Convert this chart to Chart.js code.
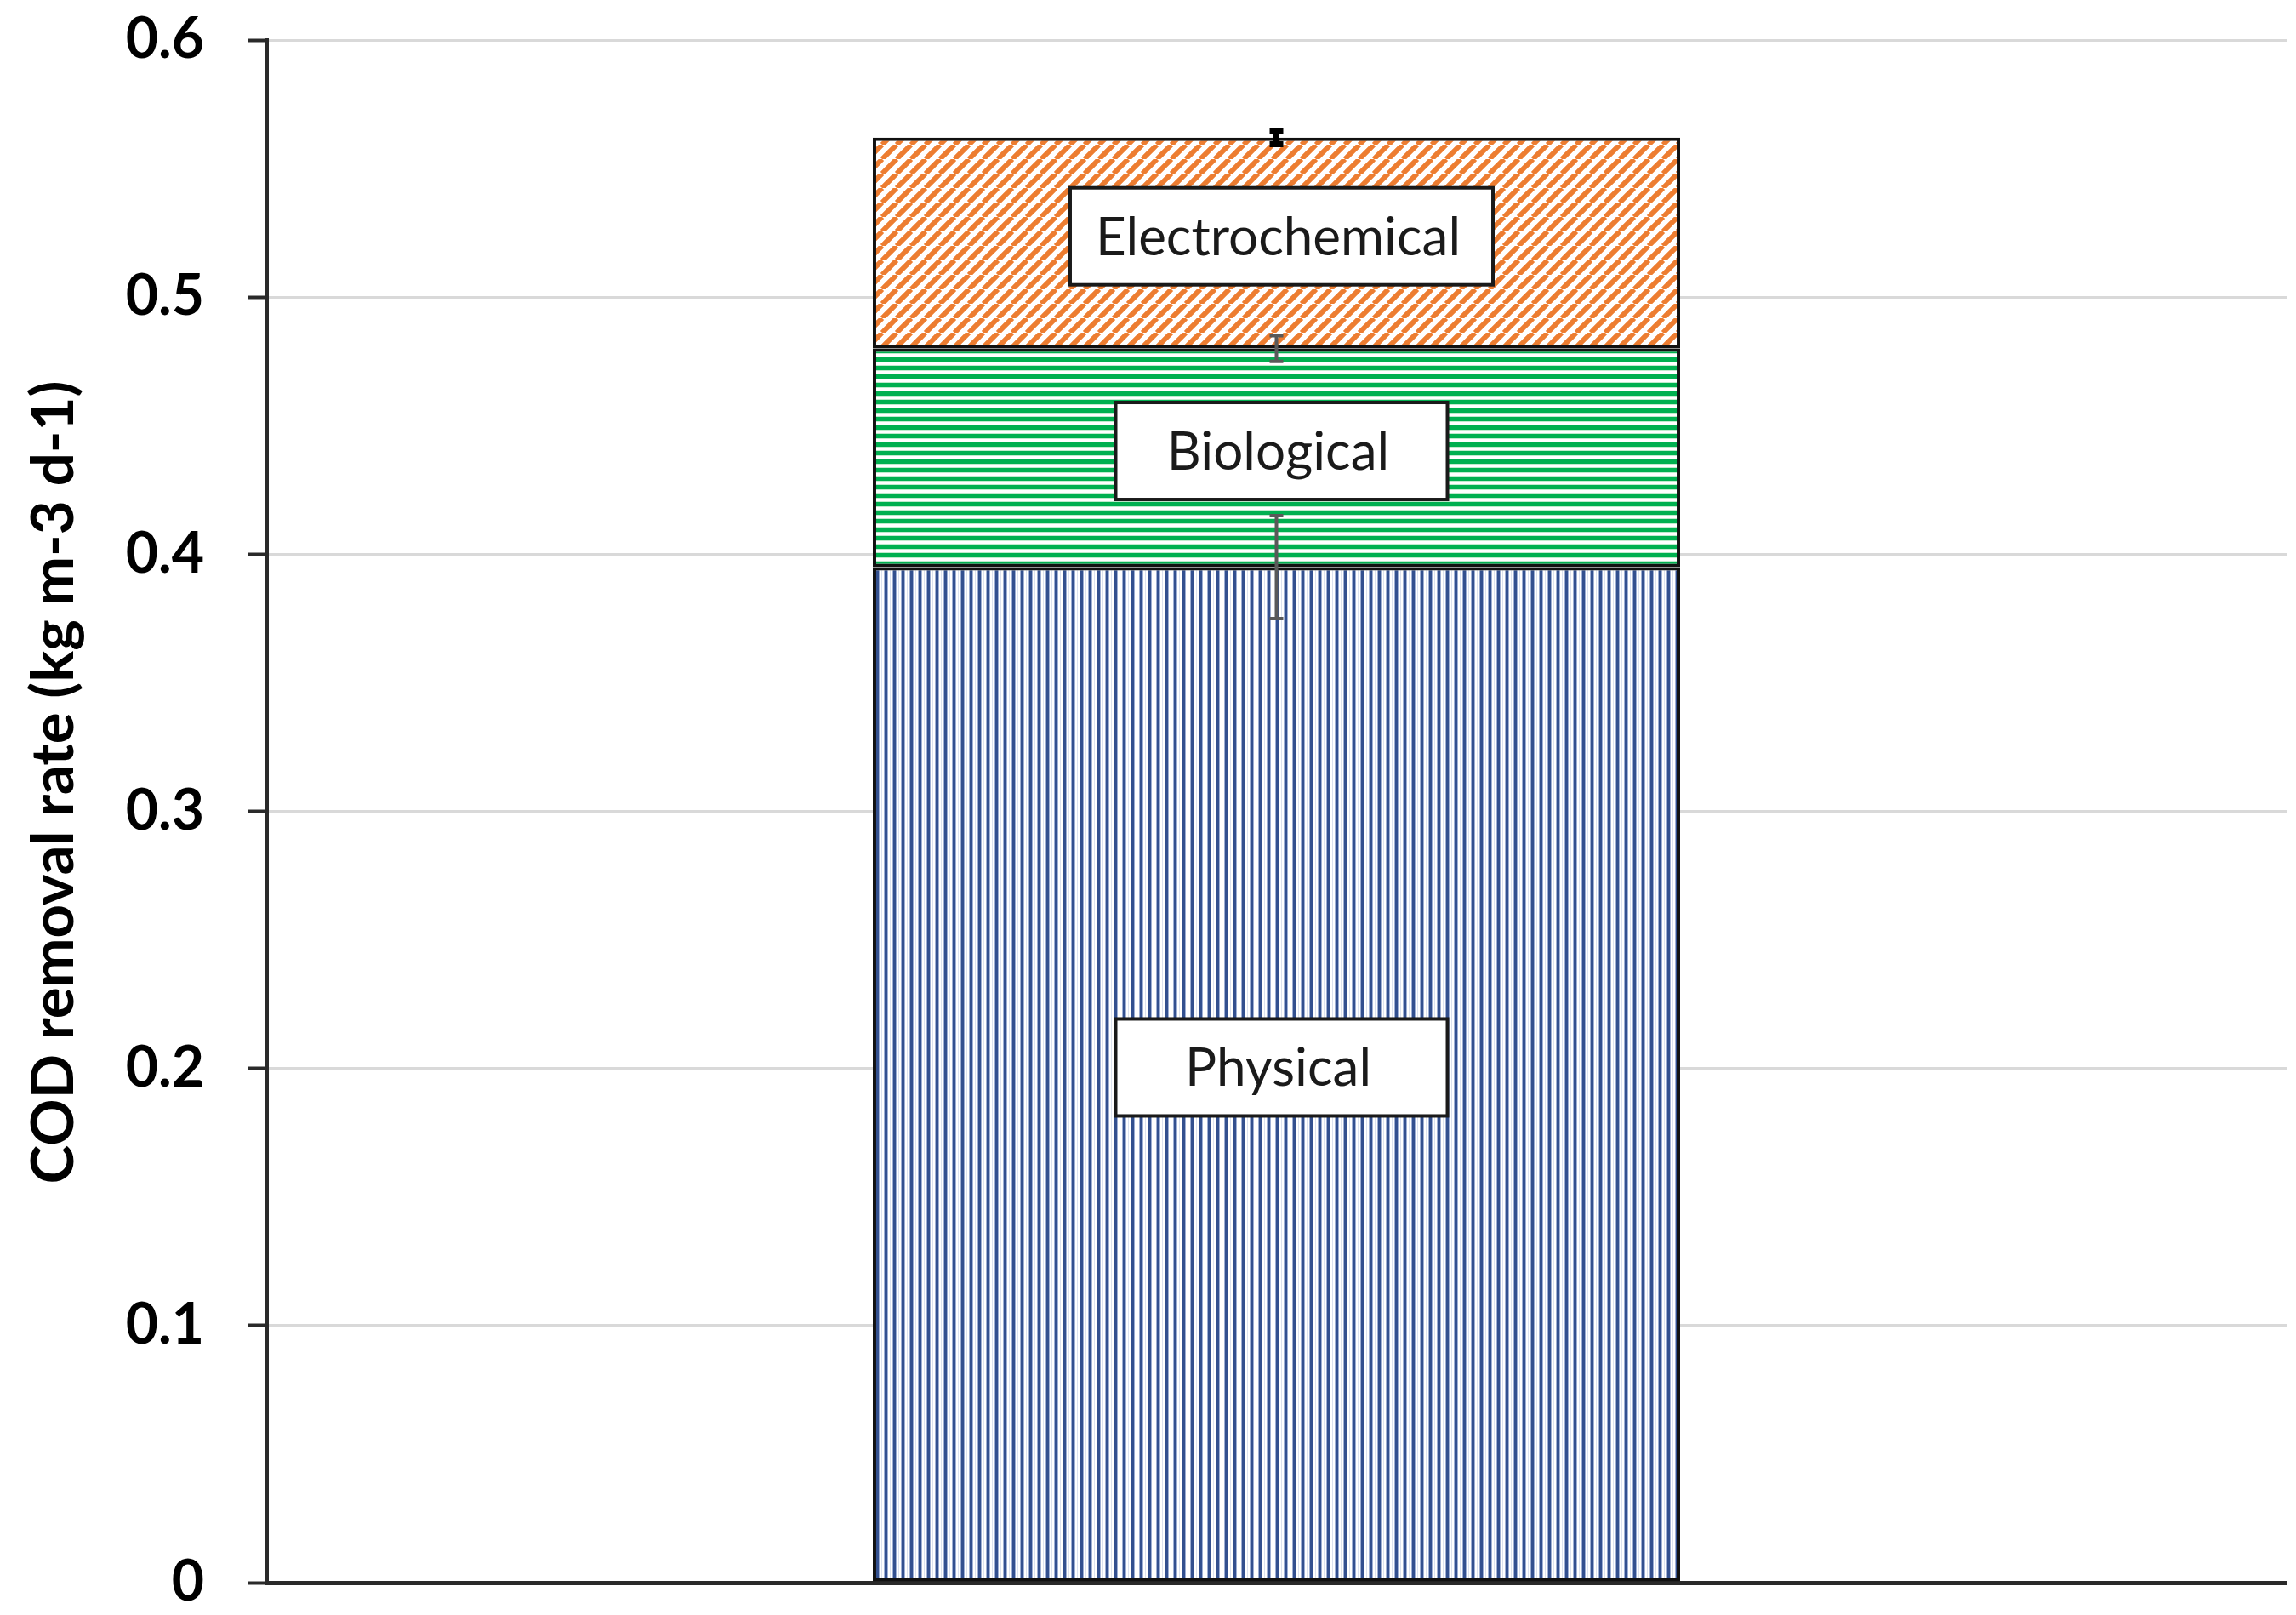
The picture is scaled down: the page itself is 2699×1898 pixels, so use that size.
<!DOCTYPE html>
<html><head><meta charset="utf-8">
<script src="https://cdn.jsdelivr.net/npm/chart.js@4.4.1/dist/chart.umd.min.js"></script>
<style>html,body{margin:0;padding:0;background:#fff;}canvas{display:block}</style>
</head><body>
<canvas id="c" width="2699" height="1898"></canvas>
<script>
// ---- data ----
const categories = [''];
const seriesNames = ['Physical', 'Biological', 'Electrochemical'];
const physical = [0.395];
const biological = [0.085];
const electrochemical = [0.082];
const physicalErr = [0.02];
const biologicalErr = [0.005];
const electrochemicalErr = [0.0025];
const yMin = 0, yMax = 0.6, yStep = 0.1;
const yTitle = 'COD removal rate (kg m-3 d-1)';

// ---- patterns ----
function makePattern(kind) {
  const c = document.createElement('canvas');
  const g = c.getContext('2d');
  if (kind === 'v') {
    c.width = 10; c.height = 10;
    g.fillStyle = '#fff'; g.fillRect(0, 0, 10, 10);
    g.fillStyle = '#33508F'; g.fillRect(0, 0, 3, 10);
    g.fillStyle = '#9DAED3'; g.fillRect(3, 0, 1, 10); g.fillRect(9, 0, 1, 10);
    g.fillStyle = '#DCE2EF'; g.fillRect(6, 0, 1, 10);
  } else if (kind === 'h') {
    c.width = 10; c.height = 10;
    g.fillStyle = '#fff'; g.fillRect(0, 0, 10, 10);
    g.fillStyle = '#00B050'; g.fillRect(0, 0, 10, 5);
    g.fillStyle = '#BFEBCD'; g.fillRect(0, 5, 10, 1); g.fillRect(0, 9, 10, 1);
  } else {
    const s = 17;
    c.width = s; c.height = s;
    g.fillStyle = '#fff'; g.fillRect(0, 0, s, s);
    g.strokeStyle = '#ED7D31'; g.lineWidth = 6;
    g.beginPath();
    for (const off of [-s, 0, s]) { g.moveTo(off, s); g.lineTo(off + s, 0); }
    g.stroke();
  }
  return g.createPattern(c, 'repeat');
}

const fills = [makePattern('v'), makePattern('h'), makePattern('d')];
const seriesValues = [physical, biological, electrochemical];
const seriesErrs = [physicalErr, biologicalErr, electrochemicalErr];
const errColors = ['#595959', '#595959', '#000000'];
const errWidths = [4, 4, 7];

const overlay = {
  id: 'overlay',
  afterDatasetsDraw(chart) {
    const ctx = chart.ctx;
    const ys = chart.scales.y;
    // error bars
    const cum = categories.map(() => 0);
    chart.data.datasets.forEach((ds, di) => {
      const meta = chart.getDatasetMeta(di);
      meta.data.forEach((el, i) => {
        cum[i] += ds.data[i];
        const e = seriesErrs[di][i];
        const yTop = ys.getPixelForValue(cum[i] + e);
        const yBot = ys.getPixelForValue(cum[i] - e);
        ctx.save();
        ctx.strokeStyle = errColors[di];
        ctx.lineWidth = errWidths[di];
        ctx.beginPath();
        ctx.moveTo(el.x, yTop); ctx.lineTo(el.x, yBot);
        ctx.moveTo(el.x - 8, yTop); ctx.lineTo(el.x + 8, yTop);
        ctx.moveTo(el.x - 8, yBot); ctx.lineTo(el.x + 8, yBot);
        ctx.stroke();
        ctx.restore();
      });
    });
    // label boxes
    chart.data.datasets.forEach((ds, di) => {
      const meta = chart.getDatasetMeta(di);
      meta.data.forEach((el) => {
        ctx.save();
        ctx.font = '62px Lato';
        const tw = ctx.measureText(ds.label).width;
        const w = Math.max(390, tw + 68), h = 114;
        const cx = el.x + 6, cy = (el.y + el.base) / 2 - 8;
        ctx.fillStyle = '#fff';
        ctx.fillRect(cx - w / 2, cy - h / 2, w, h);
        ctx.strokeStyle = '#1a1a1a'; ctx.lineWidth = 4;
        ctx.strokeRect(cx - w / 2, cy - h / 2, w, h);
        ctx.fillStyle = '#1a1a1a';
        ctx.textAlign = 'center'; ctx.textBaseline = 'middle';
        ctx.fillText(ds.label, cx - 4, cy + 2);
        ctx.restore();
      });
    });
  },
  afterDraw(chart) {
    const ctx = chart.ctx, a = chart.chartArea;
    ctx.save();
    ctx.translate(64, (a.top + a.bottom) / 2 - 34);
    ctx.rotate(-Math.PI / 2);
    ctx.font = 'bold 69px Lato';
    ctx.fillStyle = '#000';
    ctx.textAlign = 'center'; ctx.textBaseline = 'middle';
    ctx.fillText(yTitle, 0, 0);
    ctx.restore();
  }
};

new Chart(document.getElementById('c'), {
  type: 'bar',
  data: {
    labels: categories,
    datasets: seriesNames.map((name, i) => ({
      label: name,
      data: seriesValues[i],
      backgroundColor: fills[i],
      borderColor: '#111',
      borderWidth: 4,
      borderSkipped: false,
      categoryPercentage: 1,
      barPercentage: 0.3996
    }))
  },
  options: {
    responsive: false,
    animation: false,
    devicePixelRatio: 1,
    layout: { padding: { top: 47, right: 11, bottom: 0, left: 0 } },
    plugins: { legend: { display: false }, tooltip: { enabled: false } },
    scales: {
      x: {
        stacked: true,
        grid: { display: false },
        ticks: { display: false },
        border: { display: true, color: '#2a2a2a', width: 5 },
        afterFit(s) { s.height = 38; s.paddingLeft = 0; s.paddingRight = 0; }
      },
      y: {
        stacked: true,
        min: yMin, max: yMax,
        ticks: {
          stepSize: yStep,
          padding: 51,
          color: '#000',
          font: { family: 'Lato', weight: 'bold', size: 66, lineHeight: 1 },
          callback: (v) => (Math.round(v * 10) / 10).toString()
        },
        grid: { color: '#D9D9D9', lineWidth: 3, tickColor: '#2a2a2a', tickWidth: 4, tickLength: 22 },
        border: { display: true, color: '#2a2a2a', width: 5 },
        afterFit(s) { s.width = 313; s.paddingTop = 0; s.paddingBottom = 0; }
      }
    }
  },
  plugins: [overlay]
});
</script>
</body></html>
